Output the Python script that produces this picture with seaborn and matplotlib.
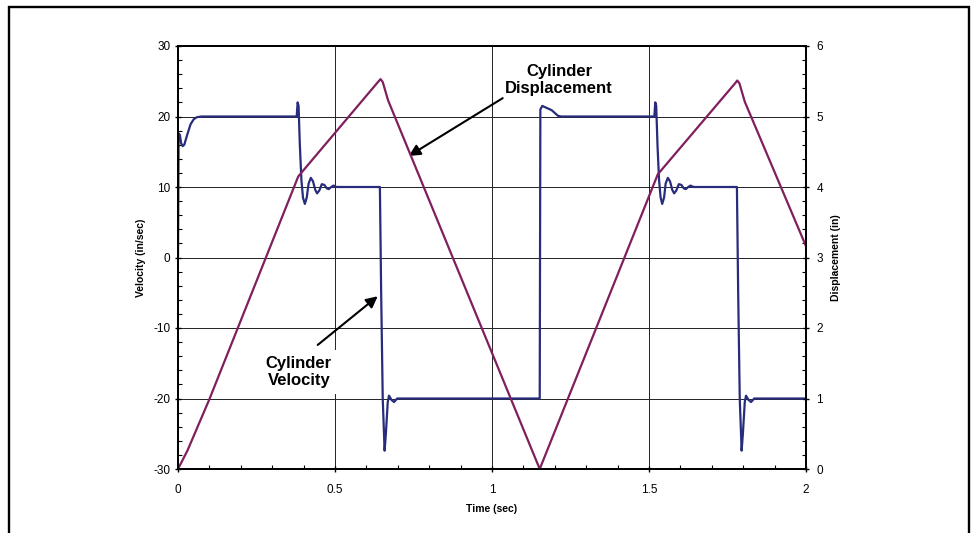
import numpy as np
import pandas as pd
import matplotlib.pyplot as plt
import seaborn as sns
from matplotlib.patches import Rectangle
from matplotlib.ticker import MultipleLocator

sns.set_style('white')
plt.rcParams['font.family'] = ['Liberation Sans', 'DejaVu Sans']
plt.rcParams['axes.unicode_minus'] = False
plt.rcParams.update({'text.color': 'black', 'axes.labelcolor': 'black',
                     'xtick.color': 'black', 'ytick.color': 'black'})

# Cylinder velocity (in/sec)
vel_time = [0.000, 0.002, 0.006, 0.010, 0.015, 0.020, 0.030, 0.040, 0.050, 0.060, 0.075,
            0.378, 0.381, 0.384, 0.388, 0.393, 0.398, 0.404, 0.410, 0.416, 0.423, 0.430,
            0.437, 0.443, 0.450, 0.458, 0.466, 0.474, 0.480, 0.488, 0.495, 0.505,
            0.643, 0.647, 0.652, 0.658, 0.662, 0.668, 0.672, 0.680, 0.688, 0.698,
            1.152, 1.154, 1.160, 1.175, 1.190, 1.200, 1.210, 1.220,
            1.517, 1.520, 1.523, 1.527, 1.532, 1.537, 1.542, 1.548, 1.553, 1.560, 1.567,
            1.574, 1.580, 1.587, 1.595, 1.603, 1.611, 1.617, 1.625, 1.632, 1.642,
            1.780, 1.784, 1.789, 1.795, 1.799, 1.805, 1.809, 1.817, 1.825, 1.835, 2.000]
vel_value = [0.0, 17.6, 17.4, 16.2, 15.8, 16.0, 17.5, 18.9, 19.6, 19.9, 20.0,
             20.0, 22.0, 21.5, 16.0, 11.0, 8.5, 7.6, 8.5, 10.5, 11.3, 10.8,
             9.6, 9.1, 9.5, 10.4, 10.3, 9.8, 9.7, 10.0, 10.2, 10.0,
             10.0, -5.0, -20.0, -27.4, -25.0, -20.5, -19.6, -20.2, -20.5, -20.0,
             -20.0, 21.0, 21.5, 21.2, 20.9, 20.5, 20.1, 20.0,
             20.0, 22.0, 21.5, 16.0, 11.0, 8.5, 7.6, 8.5, 10.5, 11.3, 10.8,
             9.6, 9.1, 9.5, 10.4, 10.3, 9.8, 9.7, 10.0, 10.2, 10.0,
             10.0, -5.0, -20.0, -27.4, -25.0, -20.5, -19.6, -20.2, -20.5, -20.0, -20.0]

# Cylinder displacement (in)
disp_time = [0.000, 0.030, 0.100, 0.383, 0.637, 0.645, 0.652, 0.669, 1.152,
             1.528, 1.774, 1.781, 1.788, 1.805, 2.000]
disp_value = [0.00, 0.26, 0.99, 4.15, 5.49, 5.53, 5.49, 5.23, 0.00,
              4.18, 5.47, 5.51, 5.47, 5.21, 3.16]

vel_df = pd.DataFrame({'t': vel_time, 'v': vel_value})
disp_df = pd.DataFrame({'t': disp_time, 'd': disp_value})

vel_color = '#282C7C'
disp_color = '#7F1F5E'

fig = plt.figure(figsize=(9.72, 5.33), dpi=100)
ax = fig.add_axes([178 / 972, 1 - 469 / 533, 628 / 972, 423 / 533])
ax2 = ax.twinx()

sns.lineplot(data=vel_df, x='t', y='v', ax=ax, color=vel_color, lw=1.6,
             estimator=None, sort=False)
sns.lineplot(data=disp_df, x='t', y='d', ax=ax2, color=disp_color, lw=1.6,
             estimator=None, sort=False)

ax.set_xlim(0, 2)
ax.set_ylim(-30, 30)
ax2.set_ylim(0, 6)

ax.xaxis.set_major_locator(MultipleLocator(0.5))
ax.xaxis.set_minor_locator(MultipleLocator(0.1))
ax.yaxis.set_major_locator(MultipleLocator(10))
ax.yaxis.set_minor_locator(MultipleLocator(2))
ax2.yaxis.set_major_locator(MultipleLocator(1))
ax2.yaxis.set_minor_locator(MultipleLocator(0.2))
ax.set_xticks([0, 0.5, 1, 1.5, 2], ['0', '0.5', '1', '1.5', '2'])

ax.grid(True, which='major', color='#222222', lw=0.7)
ax2.grid(False)

for a in (ax, ax2):
    for s in a.spines.values():
        s.set_color('black')
        s.set_linewidth(1.3)

ax.tick_params(axis='y', which='major', direction='inout', length=5, width=1,
               pad=3, labelsize=8.5, left=True)
ax.tick_params(axis='y', which='minor', direction='in', length=3, width=0.8, left=True)
ax.tick_params(axis='x', which='major', direction='inout', length=5, width=1,
               pad=8, labelsize=8.5, bottom=True)
ax.tick_params(axis='x', which='minor', direction='in', length=3, width=0.8, bottom=True)
ax2.tick_params(axis='y', which='major', direction='inout', length=5, width=1,
                pad=5, labelsize=8.5, right=True)
ax2.tick_params(axis='y', which='minor', direction='in', length=3, width=0.8, right=True)

ax.set_xlabel('Time (sec)', fontsize=7.5, fontweight='bold', labelpad=6)
ax.set_ylabel('Velocity (in/sec)', fontsize=7.5, fontweight='bold', labelpad=5)
ax2.set_ylabel('Displacement (in)', fontsize=7.5, fontweight='bold', labelpad=6)

box = dict(boxstyle='square,pad=0.35', fc='white', ec='none')
arrow = dict(arrowstyle='-|>', color='black', lw=1.5, mutation_scale=17,
             shrinkA=0, shrinkB=0)
ax.text(1.214, 25.2, 'Cylinder\nDisplacement', ha='center', va='center',
        fontsize=12, fontweight='bold', bbox=box, zorder=5)
ax.annotate('', xy=(0.735, 14.4), xytext=(1.034, 22.6), arrowprops=arrow, zorder=5)
ax.text(0.385, -16.2, 'Cylinder\nVelocity', ha='center', va='center',
        fontsize=12, fontweight='bold', bbox=box, zorder=5)
ax.annotate('', xy=(0.636, -5.5), xytext=(0.445, -12.4), arrowprops=arrow, zorder=5)

# outer frame of the original figure
fig.add_artist(Rectangle((9 / 972, -0.05), 959.5 / 972, 1.05 - 6.5 / 533,
                         transform=fig.transFigure, fill=False, ec='black', lw=1.7))

fig.savefig('out.png', dpi=100)
